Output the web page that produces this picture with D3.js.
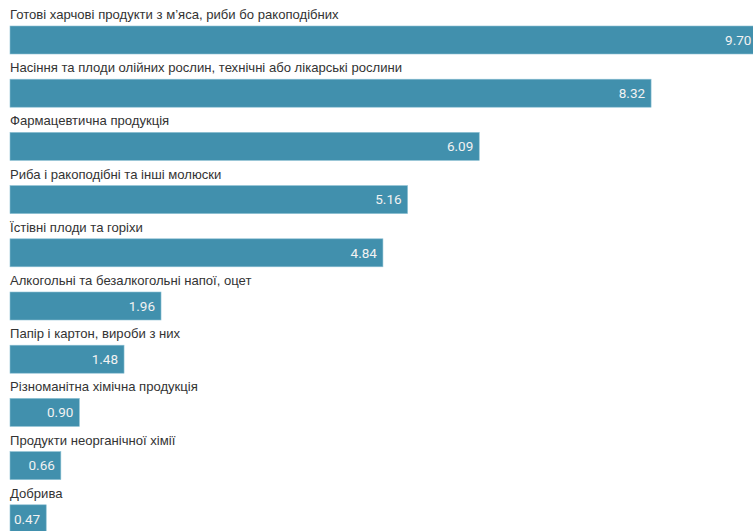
<!DOCTYPE html>
<html><head><meta charset="utf-8">
<script src="https://cdn.jsdelivr.net/npm/d3@7"></script>
<style>html,body{margin:0;padding:0;background:#fff;overflow:hidden}svg{display:block}</style>
</head><body>
<script>
const categories = [
  "Готові харчові продукти з м’яса, риби бо ракоподібних",
  "Насіння та плоди олійних рослин, технічні або лікарські рослини",
  "Фармацевтична продукція",
  "Риба і ракоподібні та інші молюски",
  "Їстівні плоди та горіхи",
  "Алкогольні та безалкогольні напої, оцет",
  "Папір і картон, вироби з них",
  "Різноманітна хімічна продукція",
  "Продукти неорганічної хімії",
  "Добрива"
];
const values = [9.70, 8.32, 6.09, 5.16, 4.84, 1.96, 1.48, 0.90, 0.66, 0.47];

const W = 753, H = 531;
const svg = d3.select("body").append("svg").attr("width", W).attr("height", H);
const x = d3.scaleLinear().domain([0, 9.70]).range([10, 757.4]);
const y = d3.scaleBand().domain(categories).range([26, 26 + 53.2 * 10]).paddingInner(0).paddingOuter(0);
const barH = 28;

const g = svg.selectAll("g.row").data(categories).join("g").attr("class", "row");
g.append("rect")
  .attr("x", x(0))
  .attr("y", d => y(d))
  .attr("width", (d, i) => x(values[i]) - x(0))
  .attr("height", barH)
  .attr("fill", "#4190ad")
  .attr("stroke", "#8cc0d3")
  .attr("stroke-width", 0.6);
g.append("text")
  .attr("x", 10)
  .attr("y", d => y(d) - 7)
  .attr("font-family", "'Liberation Sans', Arial, sans-serif")
  .attr("font-size", 13.1)
  .attr("fill", "#333")
  .text(d => d);
g.append("text")
  .attr("x", (d, i) => x(values[i]) - 6)
  .attr("y", d => y(d) + barH / 2)
  .attr("dy", "0.36em")
  .attr("text-anchor", "end")
  .attr("font-family", "Roboto, sans-serif")
  .attr("font-size", 13.5)
  .attr("fill", "#f2f2f2")
  .text((d, i) => values[i].toFixed(2));
</script>
</body></html>
